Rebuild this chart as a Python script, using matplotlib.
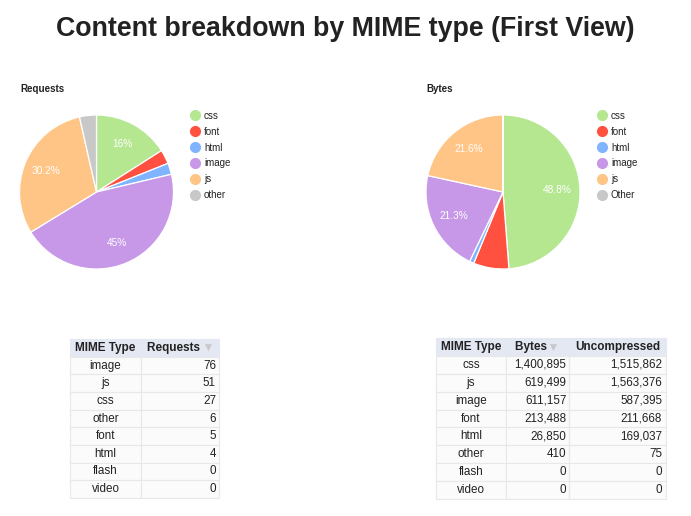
"""Content breakdown by MIME type (First View): two pies and two tables."""

import matplotlib
matplotlib.use("Agg")
import matplotlib.pyplot as plt
from matplotlib.lines import Line2D

plt.rcParams["font.family"] = ["Liberation Sans", "DejaVu Sans"]

W, H = 691, 516

# ---------------------------------------------------------------------------
# Data
# ---------------------------------------------------------------------------

pie_types = ["css", "font", "html", "image", "js", "other"]
pie_colors = ["#b5e790", "#ff5040", "#80b4ff", "#c797e8", "#ffc586", "#c8c8c8"]

requests_pie = [27, 5, 4, 76, 51, 6]
bytes_pie = [1400895, 213488, 26850, 611157, 619499, 410]
requests_legend = ["css", "font", "html", "image", "js", "other"]
bytes_legend = ["css", "font", "html", "image", "js", "Other"]

req_table_types = ["image", "js", "css", "other", "font", "html", "flash", "video"]
req_table_counts = [76, 51, 27, 6, 5, 4, 0, 0]

bytes_table_types = ["css", "js", "image", "font", "html", "other", "flash", "video"]
bytes_table_bytes = [1400895, 619499, 611157, 213488, 26850, 410, 0, 0]
bytes_table_uncompressed = [1515862, 1563376, 587395, 211668, 169037, 75, 0, 0]


def px_axes(fig, left, top, right, bottom):
    """Axes placed by pixel box (top-left origin)."""
    return fig.add_axes([left / W, 1 - bottom / H, (right - left) / W,
                         (bottom - top) / H])


def pct_label(p):
    if p < 10:
        return ""
    s = f"{p:.1f}"
    s = s[:-2] if s.endswith(".0") else s
    return s + "%"


def draw_pie(fig, cx, cy, r, values, title, legend_labels, legend_x, title_x):
    ax = px_axes(fig, cx - r, cy - r, cx + r, cy + r)
    ax.pie(values, colors=pie_colors, startangle=90, counterclock=False,
           autopct=pct_label, pctdistance=0.71,
           wedgeprops=dict(edgecolor="white", linewidth=0.9),
           textprops=dict(color="white", fontsize=7.3))
    ax.set_xlim(-1, 1)
    ax.set_ylim(-1, 1)
    ax.set_aspect("equal")
    fig.text(title_x / W, 1 - 89 / H, title, fontsize=7, weight="bold",
             va="center", ha="left", color="#222222")
    handles = [Line2D([], [], marker="o", linestyle="", markersize=7,
                      markerfacecolor=c, markeredgecolor=c) for c in pie_colors]
    fig.legend(handles, legend_labels, loc="upper left",
               bbox_to_anchor=(legend_x / W, 1 - 106 / H), frameon=False,
               fontsize=7, borderpad=0, handlelength=1, handletextpad=0.45,
               labelspacing=0.6, labelcolor="#222222")


def draw_table(fig, box, col_fracs, header, rows, aligns, sort_col, arrow_at):
    ax = px_axes(fig, *box)
    ax.axis("off")
    table = ax.table(cellText=rows, colLabels=header, colWidths=col_fracs,
                     bbox=[0, 0, 1, 1])
    table.auto_set_font_size(False)
    for (row, col), cell in table.get_celld().items():
        cell.set_linewidth(0.8)
        cell.PAD = 0.04
        txt = cell.get_text()
        txt.set_color("#222222")
        if row == 0:
            cell.set_facecolor("#e4e8f3")
            cell.set_edgecolor("#e4e8f3")
            cell.set_zorder(0)
            txt.set_fontsize(8.5)
            txt.set_weight("bold")
            cell._loc = "center"
            txt.set_ha("center")
        else:
            cell.set_facecolor("#fbfbfb")
            cell.set_edgecolor("#e8e8e8")
            txt.set_fontsize(8.4)
            cell._loc = aligns[col]
            txt.set_ha(aligns[col])
    # light sort arrow next to the sorted column header
    left = sum(col_fracs[:sort_col])
    ax.text(left + col_fracs[sort_col] * arrow_at, 1 - 0.5 / (len(rows) + 1),
            "\u25bc", fontsize=6.5, color="#c8c8c8", ha="center", va="center",
            family=["DejaVu Sans"])
    return table


# ---------------------------------------------------------------------------
# Figure
# ---------------------------------------------------------------------------

fig = plt.figure(figsize=(W / 100, H / 100), dpi=100)
fig.text(0.5, 1 - 29 / H, "Content breakdown by MIME type (First View)",
         ha="center", va="center", fontsize=19.3, weight="bold",
         color="#222222")

draw_pie(fig, 96.5, 192, 77, requests_pie, "Requests", requests_legend,
         185, 20)
draw_pie(fig, 503, 192, 77, bytes_pie, "Bytes", bytes_legend, 592, 426)

req_rows = [[t, f"{c:,}"] for t, c in zip(req_table_types, req_table_counts)]
draw_table(fig, (70, 339, 219, 498), [71 / 149, 78 / 149],
           ["MIME Type", "Requests    "], req_rows, ["center", "right"], 1,
           0.87)

bytes_rows = [[t, f"{b:,}", f"{u:,}"] for t, b, u in
              zip(bytes_table_types, bytes_table_bytes, bytes_table_uncompressed)]
draw_table(fig, (436, 338, 666, 499), [70 / 230, 63 / 230, 97 / 230],
           ["MIME Type", "Bytes    ", "Uncompressed"], bytes_rows,
           ["center", "right", "right"], 1, 0.76)

fig.savefig("out.png", dpi=100)
